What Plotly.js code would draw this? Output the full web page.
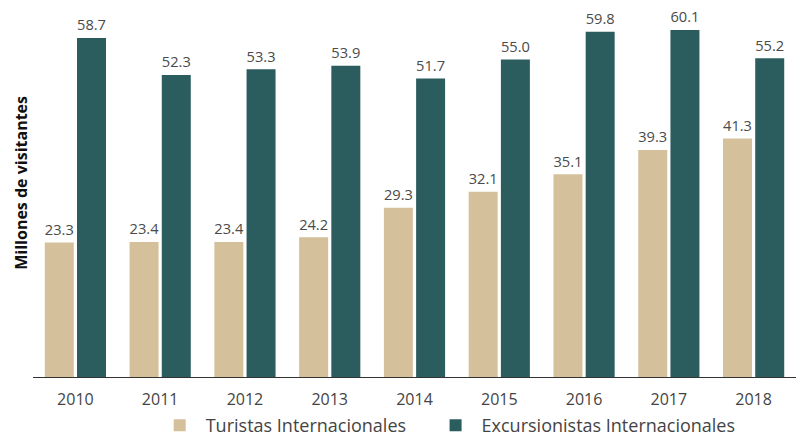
<!DOCTYPE html>
<html>
<head>
<meta charset="utf-8">
<script src="https://cdn.plot.ly/plotly-3.0.1.min.js"></script>
<style>html,body{margin:0;padding:0;background:#fff;}#chart{width:809px;height:436px;}</style>
</head>
<body>
<div id="chart"></div>
<script>
const years = ['2010','2011','2012','2013','2014','2015','2016','2017','2018'];
const turistas = [23.3, 23.4, 23.4, 24.2, 29.3, 32.1, 35.1, 39.3, 41.3];
const excursionistas = [58.7, 52.3, 53.3, 53.9, 51.7, 55.0, 59.8, 60.1, 55.2];
const seriesNames = ['Turistas Internacionales', 'Excursionistas Internacionales'];
const yTitle = 'Millones de visitantes';

const FONT = 'Open Sans, Lato, sans-serif';
const traces = [
  {type:'bar', name:seriesNames[0], x:years, y:turistas, marker:{color:'#d4c19c'},
   texttemplate:'%{y:.1f}', textposition:'outside', cliponaxis:false, legend:'legend',
   textfont:{family:FONT, size:16, color:'#4a4a4a'}, hoverinfo:'none'},
  {type:'bar', name:seriesNames[1], x:years, y:excursionistas, marker:{color:'#2b5d5e'},
   texttemplate:'%{y:.1f}', textposition:'outside', cliponaxis:false, legend:'legend2',
   textfont:{family:FONT, size:16, color:'#4a4a4a'}, hoverinfo:'none'}
];
const legendBase = {orientation:'h', xref:'container', yref:'container', xanchor:'left', y:0.024, yanchor:'middle',
          font:{family:FONT, size:18, color:'#444'}, itemwidth:42, bgcolor:'rgba(0,0,0,0)'};
const layout = {
  width:809, height:436,
  margin:{l:33, r:13, t:19, b:59},
  paper_bgcolor:'#fff', plot_bgcolor:'#fff',
  font:{family:FONT, color:'#444'},
  barmode:'group', bargap:0.24, bargroupgap:0.1,
  showlegend:true,
  legend:Object.assign({}, legendBase, {x:0.19}),
  legend2:Object.assign({}, legendBase, {x:0.531}),
  xaxis:{showline:true, linecolor:'#333', linewidth:1, ticks:'', showgrid:false, ticklabelstandoff:8,
         tickfont:{family:FONT, size:16, color:'#444'}, zeroline:false, automargin:false},
  yaxis:{range:[0,62], showticklabels:false, showgrid:false, zeroline:false, ticks:'', showline:false, automargin:false},
  annotations:[{text:'<b>'+yTitle+'</b>', xref:'paper', yref:'paper', x:-0.016, y:0.542,
    xanchor:'center', yanchor:'middle', textangle:-90, showarrow:false,
    font:{family:FONT, size:16, color:'#111'}}]
};
Plotly.newPlot('chart', traces, layout, {displayModeBar:false, staticPlot:true});
</script>
</body>
</html>
